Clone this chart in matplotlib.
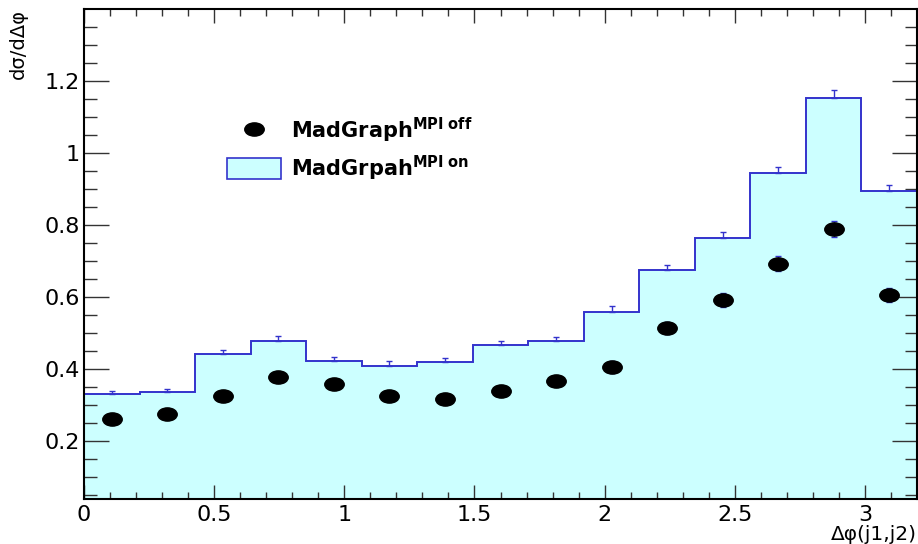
#MadGraph MPI off / on comparison, delta phi between leading jets

import numpy as np
import matplotlib
matplotlib.use('Agg')
import matplotlib.pyplot as plt
from matplotlib.path import Path
from matplotlib.transforms import Affine2D
from matplotlib.lines import Line2D
from matplotlib.patches import Patch

# 15 bins from 0 to 3.2
bin_edges = np.linspace(0, 3.2, 16)

# MPI on histogram (filled) and its errors
mpi_on = [0.331, 0.335, 0.442, 0.479, 0.422, 0.409, 0.419, 0.467, 0.478,
          0.559, 0.674, 0.763, 0.944, 1.154, 0.894]
mpi_on_err = [0.009, 0.010, 0.011, 0.012, 0.011, 0.012, 0.012, 0.012, 0.012,
              0.015, 0.015, 0.017, 0.018, 0.021, 0.018]

# MPI off points and errors
mpi_off = [0.261, 0.276, 0.324, 0.379, 0.359, 0.326, 0.316, 0.340, 0.366,
           0.406, 0.513, 0.591, 0.693, 0.789, 0.605]
mpi_off_err = [0.010, 0.010, 0.011, 0.012, 0.012, 0.011, 0.011, 0.012, 0.012,
               0.017, 0.017, 0.019, 0.021, 0.022, 0.019]

label_off = r'$\mathbf{MadGraph}^{\mathbf{MPI\ off}}$'
label_on = r'$\mathbf{MadGrpah}^{\mathbf{MPI\ on}}$'

fill_col = '#ccffff'
line_col = '#3333cc'

plt.rcParams['font.family'] = ['DejaVu Sans']
plt.rcParams['mathtext.fontset'] = 'dejavusans'

fig = plt.figure(figsize=(9.18, 5.44), dpi=100)
ax = fig.add_axes([84/918, 1-499/544, 833/918, 490/544])

centers = 0.5*(bin_edges[:-1] + bin_edges[1:])

# filled histogram + outline
ax.stairs(mpi_on, bin_edges, fill=True, facecolor=fill_col, edgecolor='none', zorder=1)
ax.stairs(mpi_on, bin_edges, color=line_col, linewidth=1.4, baseline=None, zorder=2)
# only the upper half of the error bar shows above the fill
ax.errorbar(centers, mpi_on, yerr=[np.zeros(len(mpi_on)), mpi_on_err], fmt='none',
            ecolor=line_col, elinewidth=1.0, capsize=2.2, capthick=1.0, zorder=2)

# elliptical marker (the original picture is stretched sideways)
ell = Path.unit_circle().transformed(Affine2D().scale(1.0, 0.68))
ax.errorbar(centers, mpi_off, yerr=mpi_off_err, fmt='none', ecolor=line_col,
            elinewidth=1.0, capsize=2.5, capthick=1.0, zorder=3)
ax.plot(centers, mpi_off, linestyle='none', marker=ell, markersize=14,
        color='black', zorder=4)

ax.set_xlim(0, 3.2)
ax.set_ylim(0.039, 1.4)

ax.set_xticks(np.arange(0, 3.01, 0.5))
ax.set_xticklabels(['0', '0.5', '1', '1.5', '2', '2.5', '3'])
ax.set_xticks(np.arange(0, 3.2, 0.1), minor=True)
ax.set_yticks([0.2, 0.4, 0.6, 0.8, 1.0, 1.2])
ax.set_yticklabels(['0.2', '0.4', '0.6', '0.8', '1', '1.2'])
ax.set_yticks(np.arange(0.05, 1.4, 0.05), minor=True)

ax.tick_params(axis='both', which='both', direction='in', top=True, right=True,
               color='#333333', width=1.0)
ax.tick_params(axis='x', which='major', length=10, pad=4, labelsize=16)
ax.tick_params(axis='x', which='minor', length=5)
ax.tick_params(axis='y', which='major', length=18, pad=3, labelsize=16)
ax.tick_params(axis='y', which='minor', length=9)
for s in ax.spines.values():
    s.set_linewidth(1.5)

ax.set_xlabel('Δφ(j1,j2)', fontsize=14.5, loc='right', labelpad=0)
ax.set_ylabel('dσ/dΔφ', fontsize=14, loc='top', labelpad=12)

handles = [Line2D([], [], linestyle='none', marker=ell, markersize=14, color='black'),
           Patch(facecolor=fill_col, edgecolor=line_col, linewidth=1.2)]
ax.legend(handles, [label_off, label_on], loc='center left',
          bbox_to_anchor=(0.162, 0.714), borderaxespad=0, frameon=False,
          fontsize=15, handlelength=2.6, handleheight=1.2, handletextpad=0.45,
          labelspacing=0.4)

fig.savefig('out.png', dpi=100)
